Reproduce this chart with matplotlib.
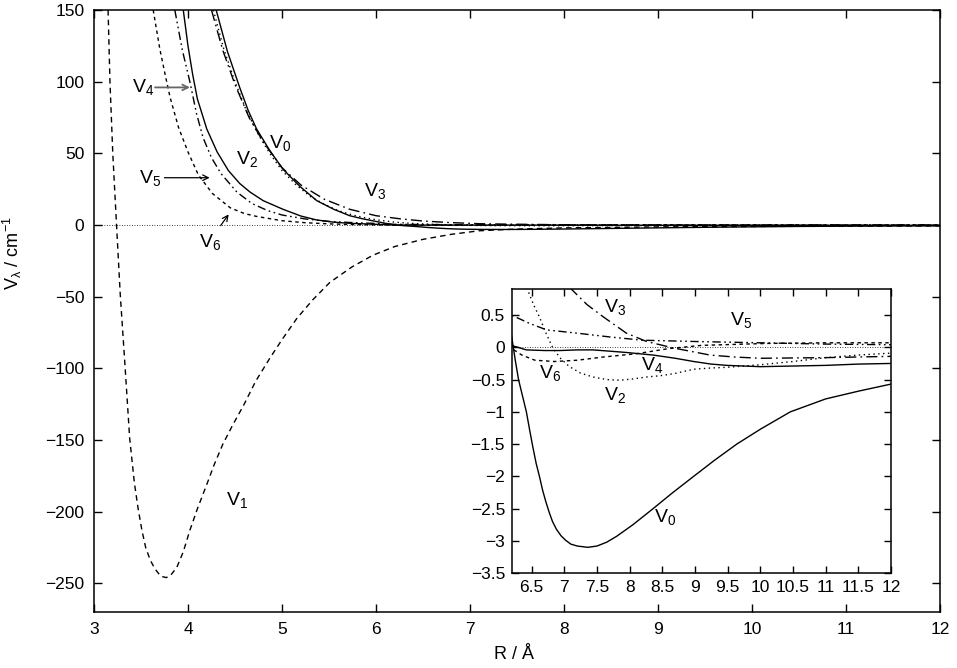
import numpy as np
from matplotlib import pyplot as plt

plt.rcParams['font.family'] = ['Liberation Sans', 'DejaVu Sans']
plt.rcParams['mathtext.fontset'] = 'custom'
plt.rcParams['mathtext.rm'] = 'Liberation Sans'
plt.rcParams['mathtext.it'] = 'Liberation Sans'

# V_lambda(R), R in Angstrom, V in cm^-1
R_0 = [4.30, 4.42, 4.55, 4.64, 4.73, 4.87, 5.01, 5.19, 5.37, 5.55, 5.72, 5.86, 6.0, 6.1, 6.19, 6.25, 6.3, 6.36,
       6.42, 6.47, 6.52, 6.57, 6.62, 6.67, 6.72, 6.77, 6.82, 6.88, 6.95, 7.02, 7.1, 7.2, 7.36, 7.5, 7.65, 7.8,
       8.05, 8.36, 8.65, 8.98, 9.3, 9.64, 10.0, 10.46, 11.0, 11.5, 12.0]
V_0 = [150, 121, 96, 80, 67, 52, 39, 27, 17, 11, 6.5, 4.3, 2.5, 1.2, 0.2, -0.2, -0.5, -0.75,
       -1.0, -1.28, -1.55, -1.8, -2.0, -2.22, -2.4, -2.56, -2.7, -2.82, -2.92, -2.99, -3.05, -3.08, -3.1, -3.08, -3.02, -2.93,
       -2.75, -2.5, -2.26, -2.0, -1.75, -1.5, -1.27, -1.0, -0.8, -0.68, -0.57]

R_1 = [3.15, 3.17, 3.20, 3.24, 3.28, 3.33, 3.38, 3.43, 3.47, 3.51, 3.55, 3.60, 3.65, 3.71, 3.77, 3.82, 3.88, 3.95,
       4.02, 4.1, 4.2, 4.28, 4.37, 4.48, 4.59, 4.72, 4.87, 5.0, 5.16, 5.33, 5.51, 5.75, 5.97, 6.2, 6.5, 6.8, 7.1,
       7.5, 8.0, 9.0, 10.0, 11.0, 12.0]
V_1 = [150, 100, 50, 0, -49, -98, -149, -180, -198, -213, -225, -234, -240, -245, -246, -244, -239, -228,
       -213, -198, -181, -167, -153, -139, -126, -109, -93, -80, -65, -52, -40, -29, -21, -15, -10, -6.5, -4,
       -2.8, -2.0, -1.3, -1.0, -0.8, -0.6]

R_2 = [4.27, 4.38, 4.5, 4.62, 4.75, 4.87, 5.0, 5.15, 5.3, 5.45, 5.6, 5.75, 5.9, 6.05, 6.2, 6.32, 6.44, 6.53, 6.62,
       6.72, 6.83, 6.95, 7.08, 7.25, 7.44, 7.65, 7.85, 8.05, 8.26, 8.47, 8.67, 8.98, 9.25, 9.49, 10.0, 10.5, 11.0, 11.5, 12.0]
V_2 = [150, 123, 100, 80, 63, 50, 38, 28, 20, 14.5, 10, 7, 4.8, 3.2, 2.0, 1.4, 0.89, 0.66, 0.47,
       0.22, -0.02, -0.18, -0.3, -0.4, -0.46, -0.5, -0.51, -0.49, -0.46, -0.44, -0.41, -0.34, -0.32, -0.31, -0.27, -0.22, -0.16, -0.12, -0.09]

R_3 = [4.25, 4.37, 4.5, 4.65, 4.8, 5.0, 5.2, 5.45, 5.72, 6.0, 6.26, 6.5, 6.79, 7.11, 7.35, 7.6, 7.95, 8.26,
       8.67, 9.23, 9.6, 10.0, 11.0, 12.0]
V_3 = [150, 122, 98, 75, 58, 40, 28, 18, 11, 6.5, 4.3, 2.8, 1.7, 0.9, 0.66, 0.47, 0.22, 0.09,
       -0.01, -0.12, -0.15, -0.17, -0.16, -0.14]

R_4 = [3.95, 4.0, 4.05, 4.1, 4.2, 4.31, 4.43, 4.55, 4.66, 4.8, 5.01, 5.2, 5.37, 5.55, 5.72, 6.0, 6.19, 6.42,
       6.7, 6.93, 7.2, 7.44, 7.7, 7.95, 8.36, 8.7, 8.98, 9.25, 9.49, 10.0, 10.5, 11.0, 11.5, 12.0]
V_4 = [150, 125, 105, 88, 67, 51, 38, 29, 23, 17, 11, 6.3, 3.5, 2.0, 1.2, 0.5, 0.03, -0.04,
       -0.05, -0.05, -0.04, -0.04, -0.06, -0.08, -0.12, -0.17, -0.22, -0.26, -0.28, -0.3, -0.29, -0.28, -0.26, -0.25]

R_5 = [3.86, 3.94, 4.02, 4.09, 4.16, 4.25, 4.35, 4.52, 4.68, 4.85, 5.0, 5.25, 5.5, 5.75, 6.0, 6.19, 6.47, 6.73,
       7.19, 7.7, 8.2, 9.0, 10.0, 11.0, 12.0]
V_5 = [150, 122, 100, 78, 61, 47, 36, 23, 15, 10, 7, 4.2, 2.5, 1.7, 1.1, 0.5, 0.37, 0.27,
       0.22, 0.16, 0.11, 0.09, 0.07, 0.05, 0.04]

R_6 = [3.63, 3.70, 3.76, 3.81, 3.9, 4.0, 4.11, 4.26, 4.45, 4.6, 4.73, 5.0, 5.25, 5.5, 5.75, 6.0, 6.2, 6.35,
       6.55, 6.85, 7.2, 7.6, 8.1, 8.6, 9.1, 10.1, 11.0, 12.0]
V_6 = [150, 123, 104, 89, 68, 51, 35, 22, 12, 8, 6, 3, 1.6, 0.8, 0.35, 0.1, -0.02, -0.12,
       -0.2, -0.22, -0.2, -0.15, -0.1, -0.02, 0.03, 0.06, 0.07, 0.07]

curve = {
    0: (R_0, V_0, '-'),
    1: (R_1, V_1, (0, (4, 3))),
    2: (R_2, V_2, (0, (1, 2.5))),
    3: (R_3, V_3, (0, (8, 3, 1.2, 3))),
    4: (R_4, V_4, '-'),
    5: (R_5, V_5, (0, (6, 2.5, 1.2, 2.5, 1.2, 2.5))),
    6: (R_6, V_6, (0, (2.5, 2.5))),
}

fig = plt.figure(figsize=(9.57, 6.68), dpi=100)
ax1 = fig.add_axes([0.0982, 0.0838, 0.884, 0.9012])
for k, (R, V, ls) in curve.items():
    ax1.plot(R, V, color='black', linestyle=ls, lw=1.0)
ax1.axhline(0, color='black', linestyle=(0, (1, 2)), lw=0.6)
ax1.set_xlim(3, 12)
ax1.set_ylim(-270, 150)
ax1.set_xticks(np.arange(3, 13, 1))
ax1.set_yticks(np.arange(-250, 151, 50))
ax1.tick_params(direction='in', top=True, right=True, length=6, width=1, labelsize=12.5, pad=7)
for s in ax1.spines.values():
    s.set_linewidth(1.1)
ax1.set_xlabel('R / Å', fontsize=13)
ax1.xaxis.set_label_coords(0.496, -0.057)
ax1.set_ylabel(r'V$_\lambda$ / cm$^{-1}$', fontsize=13)
ax1.yaxis.set_label_coords(-0.083, 0.596)

# etichette e frecce
lab = dict(fontsize=14, ha='center', va='center')
ax1.text(3.52, 96, r'V$_4$', **lab)
ax1.annotate('', xy=(4.05, 96), xytext=(3.62, 96),
             arrowprops=dict(arrowstyle='->', color='#666666', lw=1.3))
ax1.text(3.6, 33, r'V$_5$', **lab)
ax1.annotate('', xy=(4.26, 33), xytext=(3.72, 33),
             arrowprops=dict(arrowstyle='->', color='black', lw=0.9))
ax1.text(4.23, -12, r'V$_6$', **lab)
ax1.annotate('', xy=(4.45, 9), xytext=(4.33, -2),
             arrowprops=dict(arrowstyle='->', color='black', lw=0.9))
ax1.text(4.63, 46, r'V$_2$', **lab)
ax1.text(4.98, 57, r'V$_0$', **lab)
ax1.text(5.99, 24, r'V$_3$', **lab)
ax1.text(4.52, -192, r'V$_1$', **lab)

# inset
ax2 = fig.add_axes([0.535, 0.142, 0.396, 0.425])
for k, (R, V, ls) in curve.items():
    if k == 1:
        continue
    ax2.plot(R, V, color='black', linestyle=ls, lw=1.0)
ax2.axhline(0, color='black', linestyle=(0, (1, 2)), lw=0.6)
ax2.set_xlim(6.2, 12)
ax2.set_ylim(-3.5, 0.9)
ax2.set_xticks(np.arange(6.5, 12.01, 0.5))
ax2.set_xticklabels(['6.5', '7', '7.5', '8', '8.5', '9', '9.5', '10', '10.5', '11', '11.5', '12'])
ax2.set_yticks(np.arange(-3.5, 0.51, 0.5))
ax2.set_yticklabels(['\u22123.5', '\u22123', '\u22122.5', '\u22122', '\u22121.5', '\u22121', '\u22120.5', '0', '0.5'])
ax2.tick_params(direction='in', top=True, right=True, length=5, width=1, labelsize=12.5, pad=5)
for s in ax2.spines.values():
    s.set_linewidth(1.1)
ax2.text(7.78, 0.62, r'V$_3$', **lab)
ax2.text(9.7, 0.42, r'V$_5$', **lab)
ax2.text(6.78, -0.4, r'V$_6$', **lab)
ax2.text(8.34, -0.28, r'V$_4$', **lab)
ax2.text(7.78, -0.74, r'V$_2$', **lab)
ax2.text(8.55, -2.63, r'V$_0$', **lab)

fig.savefig('out.png', dpi=100)
